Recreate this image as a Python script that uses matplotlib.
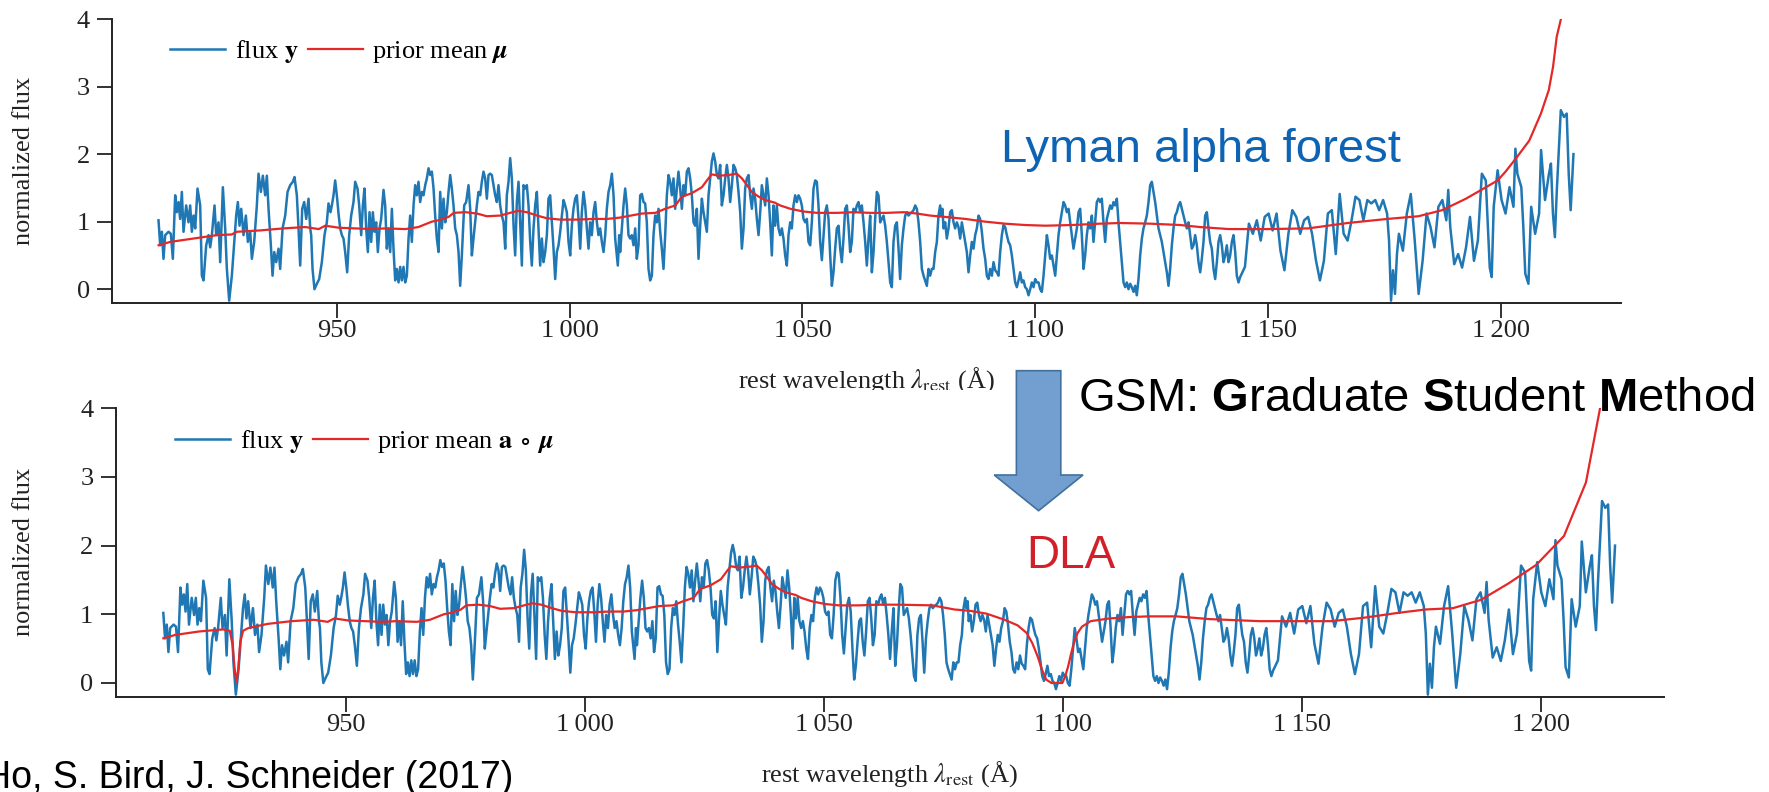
import numpy as np
import matplotlib
matplotlib.use("Agg")
import matplotlib.pyplot as plt
from matplotlib.patches import Polygon
from matplotlib.transforms import Bbox, TransformedBbox

spectrum = [
    (911.69, 1.02), (912.05, 0.65), (912.41, 0.85), (912.76, 0.45), (913.12, 0.80), (913.84, 0.85),
    (914.34, 0.82), (914.77, 0.45), (915.27, 1.39), (915.63, 1.14), (915.99, 1.29), (916.34, 1.04),
    (916.70, 1.44), (917.06, 0.85), (917.63, 1.24), (918.13, 0.99), (918.49, 1.24), (918.85, 0.85),
    (919.21, 1.09), (919.57, 0.90), (920.07, 1.49), (920.64, 1.24), (921.00, 0.20), (921.36, 0.13),
    (921.93, 0.65), (922.43, 0.80), (922.79, 0.62), (923.15, 0.80), (923.72, 1.24), (924.08, 0.80),
    (924.58, 0.99), (924.94, 0.40), (925.51, 1.51), (926.01, 0.90), (926.37, 0.30), (926.87, -0.17),
    (927.44, 0.20), (927.80, 0.55), (928.37, 1.09), (928.73, 1.29), (929.09, 0.94), (929.45, 1.19),
    (929.95, 0.80), (930.45, 1.09), (930.88, 0.70), (931.38, 0.85), (931.74, 0.45), (932.24, 0.70),
    (932.81, 1.24), (933.17, 1.71), (933.67, 1.44), (934.10, 1.68), (934.60, 1.39), (934.96, 1.68),
    (935.32, 1.19), (935.82, 0.65), (936.18, 0.20), (936.54, 0.55), (936.96, 0.40), (937.47, 0.60),
    (937.82, 0.30), (938.33, 0.90), (938.90, 1.09), (939.40, 1.44), (939.97, 1.54), (940.54, 1.59),
    (940.90, 1.66), (941.40, 1.39), (941.76, 0.90), (942.12, 0.35), (942.55, 1.19), (942.98, 1.29),
    (943.41, 1.04), (943.91, 1.34), (944.27, 0.90),
    (944.48, 0.80), (944.77, 0.30), (945.19, 0.00), (945.70, 0.08), (946.20, 0.15), (946.77, 0.40),
    (947.34, 0.80), (947.84, 0.99), (948.20, 1.27), (948.63, 1.14), (948.92, 1.24), (949.28, 1.39),
    (949.63, 1.61), (949.99, 1.39), (950.35, 1.12), (950.71, 0.90), (951.07, 0.80), (951.42, 0.75),
    (951.78, 0.55), (952.21, 0.25), (952.64, 0.80), (953.07, 1.09), (953.57, 1.29), (953.93, 1.59),
    (954.43, 1.49), (954.79, 1.24), (955.22, 0.80), (955.58, 1.24), (955.93, 1.49), (956.29, 0.90),
    (956.65, 0.55), (957.01, 1.14), (957.37, 0.70), (957.72, 1.14), (958.08, 0.85), (958.44, 0.99),
    (958.80, 0.55), (959.16, 0.90), (959.51, 1.04), (960.02, 1.47), (960.37, 1.24), (960.73, 0.60),
    (961.09, 0.90), (961.45, 0.55), (961.81, 1.19), (962.16, 0.60), (962.52, 0.13), (962.88, 0.30),
    (963.24, 0.10), (963.60, 0.33), (963.95, 0.13), (964.31, 0.33), (964.67, 0.10), (965.03, 0.20),
    (965.39, 0.75), (965.74, 1.09), (966.10, 0.70), (966.46, 1.24), (966.82, 1.54), (967.18, 1.39),
    (967.53, 1.59), (967.89, 1.29), (968.25, 1.44), (968.61, 1.39), (968.97, 1.54), (969.32, 1.64),
    (969.68, 1.79), (970.04, 1.69), (970.40, 1.74), (970.76, 1.49), (971.11, 1.09), (971.47, 0.75),
    (971.83, 0.55), (972.19, 1.44), (972.55, 0.90), (972.90, 1.34), (973.26, 0.99), (973.62, 1.14),
    (973.98, 1.44), (974.34, 1.69), (974.69, 1.49), (975.05, 1.24), (975.41, 0.90), (975.77, 0.80),
    (976.13, 0.55), (976.48, 0.05), (976.84, 0.50),
    (977.05, 0.80), (977.34, 1.24), (977.77, 1.29), (978.27, 1.54), (978.63, 1.19), (978.99, 0.50),
    (979.34, 0.75), (979.70, 0.99), (980.06, 1.24), (980.42, 1.44), (980.78, 1.39), (981.13, 1.59),
    (981.49, 1.74), (981.85, 1.64), (982.21, 1.34), (982.57, 1.69), (982.92, 1.71), (983.28, 1.69),
    (983.64, 1.54), (984.00, 1.39), (984.36, 1.29), (984.71, 1.54), (985.07, 1.24), (985.43, 1.09),
    (985.79, 0.99), (986.15, 0.60), (986.50, 1.39), (986.86, 1.59), (987.22, 1.94), (987.58, 1.64),
    (987.94, 0.95), (988.29, 0.50), (988.65, 1.29), (989.01, 1.59), (989.37, 0.99), (989.73, 0.35),
    (990.08, 1.54), (990.44, 1.49), (990.80, 1.54), (991.16, 1.24), (991.52, 0.70), (991.87, 0.35),
    (992.23, 0.90), (992.59, 1.24), (992.95, 1.44), (993.31, 0.90), (993.66, 0.35), (994.02, 0.75),
    (994.38, 0.40), (994.74, 0.55), (995.10, 0.80), (995.45, 1.34), (995.81, 1.39), (996.17, 0.99),
    (996.53, 0.60), (996.89, 0.15), (997.24, 0.55), (997.60, 0.65), (997.96, 0.85), (998.32, 1.09),
    (998.68, 1.32), (999.03, 1.24), (999.39, 1.14), (999.75, 0.70), (1000.11, 0.50), (1000.47, 0.95),
    (1000.82, 1.19), (1001.18, 1.34), (1001.54, 1.39), (1001.90, 1.04), (1002.26, 0.60), (1002.61, 1.14),
    (1002.97, 1.44), (1003.33, 1.24), (1003.69, 0.90), (1004.05, 0.60), (1004.40, 0.99), (1004.76, 0.80),
    (1005.12, 1.14), (1005.48, 1.29), (1005.84, 0.99), (1006.19, 0.80), (1006.55, 0.90), (1006.91, 0.70),
    (1007.27, 0.55), (1007.63, 0.80), (1007.98, 1.19), (1008.34, 1.44), (1008.70, 1.54), (1009.06, 1.71),
    (1009.42, 1.39), (1009.77, 0.75),
    (1010.34, 0.35), (1010.63, 0.80), (1010.84, 0.55), (1011.20, 0.90), (1011.56, 1.24), (1011.92, 1.49),
    (1012.28, 1.24), (1012.63, 0.80), (1012.99, 0.75), (1013.35, 0.80), (1013.71, 0.65), (1014.07, 0.90),
    (1014.42, 0.45), (1014.78, 0.65), (1015.14, 1.39), (1015.50, 1.41), (1015.86, 1.29), (1016.21, 1.27),
    (1016.57, 0.99), (1016.93, 0.30), (1017.29, 0.13), (1017.65, 0.20), (1018.00, 0.80), (1018.36, 1.09),
    (1018.72, 0.99), (1019.08, 1.19), (1019.44, 0.85), (1019.79, 0.60), (1020.15, 0.30), (1020.51, 0.80),
    (1020.87, 1.39), (1021.23, 1.69), (1021.58, 1.59), (1021.94, 1.39), (1022.30, 1.64), (1022.66, 1.19),
    (1023.02, 1.49), (1023.37, 1.74), (1023.73, 1.49), (1024.09, 1.19), (1024.45, 1.54), (1024.81, 1.39),
    (1025.16, 1.74), (1025.52, 1.79), (1025.88, 1.64), (1026.24, 1.39), (1026.60, 0.99), (1026.95, 0.94),
    (1027.31, 1.19), (1027.67, 0.45), (1028.03, 0.94), (1028.39, 1.34), (1028.74, 1.14), (1029.10, 0.99),
    (1029.46, 0.85), (1029.82, 1.39), (1030.18, 1.64), (1030.53, 1.89), (1030.89, 2.01), (1031.25, 1.89),
    (1031.61, 1.69), (1031.97, 1.64), (1032.32, 1.84), (1032.68, 1.24), (1033.04, 1.39), (1033.40, 1.64),
    (1033.76, 1.84), (1034.11, 1.64), (1034.47, 1.29), (1034.83, 1.54), (1035.19, 1.84), (1035.55, 1.79),
    (1035.90, 1.69), (1036.26, 1.44), (1036.62, 1.14), (1036.98, 0.60), (1037.34, 0.90), (1037.69, 1.49),
    (1038.05, 1.64), (1038.41, 1.69), (1038.77, 1.39), (1039.13, 1.19), (1039.48, 1.49), (1039.84, 1.34),
    (1040.20, 1.04), (1040.56, 0.80), (1040.92, 1.14), (1041.27, 1.54), (1041.63, 1.39), (1041.99, 1.24),
    (1042.35, 1.64), (1042.71, 1.39), (1043.06, 0.99),
    (1043.42, 0.50), (1043.78, 1.24), (1044.13, 0.94), (1044.49, 1.24), (1044.85, 0.90), (1045.21, 0.80),
    (1045.57, 0.90), (1045.92, 0.75), (1046.28, 0.50), (1046.64, 0.35), (1047.00, 0.80), (1047.36, 0.99),
    (1047.71, 0.90), (1048.07, 1.24), (1048.43, 1.39), (1048.79, 1.29), (1049.15, 1.39), (1049.50, 1.34),
    (1049.86, 1.24), (1050.22, 1.04), (1050.58, 0.99), (1050.94, 1.04), (1051.29, 0.70), (1051.65, 0.65),
    (1052.01, 0.99), (1052.37, 1.49), (1052.73, 1.61), (1053.08, 1.59), (1053.44, 1.24), (1053.80, 0.70),
    (1054.16, 0.43), (1054.52, 0.80), (1054.87, 1.14), (1055.23, 1.24), (1055.59, 1.04), (1055.95, 0.50),
    (1056.31, 0.05), (1056.66, 0.25), (1057.02, 0.60), (1057.38, 0.90), (1057.74, 0.94), (1058.10, 0.60),
    (1058.45, 0.40), (1058.81, 0.75), (1059.17, 1.19), (1059.53, 1.24), (1059.89, 0.94), (1060.24, 0.55),
    (1060.60, 0.70), (1060.96, 1.19), (1061.32, 1.14), (1061.68, 1.24), (1062.03, 1.29), (1062.39, 1.14),
    (1062.75, 1.24), (1063.11, 0.99), (1063.47, 0.70), (1063.82, 0.35), (1064.18, 0.75), (1064.54, 1.09),
    (1064.90, 0.25), (1065.26, 0.55), (1065.61, 1.04), (1065.97, 1.44), (1066.33, 1.39), (1066.69, 0.99),
    (1067.05, 1.04), (1067.40, 1.09), (1067.76, 0.94), (1068.12, 0.70), (1068.48, 0.40), (1068.84, 0.10),
    (1069.19, 0.03), (1069.55, 0.70), (1069.91, 0.94), (1070.27, 0.99), (1070.63, 0.60), (1070.98, 0.15),
    (1071.34, 0.65), (1071.70, 0.90), (1072.06, 1.09), (1072.42, 1.14), (1072.77, 1.09), (1073.13, 1.12),
    (1073.49, 1.14), (1073.85, 1.17), (1074.21, 1.24), (1074.56, 1.19), (1074.92, 0.99), (1075.28, 0.70),
    (1075.64, 0.30), (1076.00, 0.20),
    (1076.71, 0.05), (1077.07, 0.30), (1077.42, 0.20), (1077.78, 0.30), (1078.14, 0.30), (1078.50, 0.55),
    (1078.86, 0.70), (1079.21, 1.09), (1079.57, 1.24), (1079.79, 1.09), (1080.07, 1.19), (1080.29, 0.90),
    (1080.65, 0.99), (1081.00, 0.75), (1081.36, 0.90), (1081.72, 1.14), (1082.08, 1.17), (1082.44, 0.99),
    (1082.79, 0.90), (1083.15, 0.99), (1083.51, 0.92), (1083.87, 0.75), (1084.23, 0.99), (1084.58, 0.85),
    (1084.94, 0.70), (1085.30, 0.55), (1085.66, 0.25), (1086.02, 0.50), (1086.37, 0.70), (1086.73, 0.60),
    (1087.09, 0.80), (1087.45, 0.90), (1087.81, 1.09), (1088.16, 1.04), (1088.52, 0.85), (1088.88, 0.60),
    (1089.24, 0.45), (1089.60, 0.20), (1089.95, 0.15), (1090.31, 0.30), (1090.67, 0.20), (1091.03, 0.40),
    (1091.39, 0.28), (1091.74, 0.25), (1092.10, 0.20), (1092.46, 0.55), (1092.82, 0.80), (1093.18, 0.95),
    (1093.53, 0.92), (1093.89, 0.80), (1094.25, 0.70), (1094.61, 0.65), (1094.97, 0.50), (1095.32, 0.30),
    (1095.68, 0.10), (1096.04, 0.03), (1096.40, 0.13), (1096.76, 0.25), (1097.11, 0.10), (1097.47, 0.13),
    (1097.83, 0.03), (1098.19, 0.00), (1098.55, -0.09), (1098.91, 0.00), (1099.26, 0.10), (1099.62, 0.03),
    (1099.98, 0.15), (1100.34, 0.10), (1100.70, 0.10), (1101.05, 0.00), (1101.41, -0.04), (1101.77, 0.20),
    (1102.13, 0.50), (1102.49, 0.80), (1102.84, 0.65), (1103.20, 0.45), (1103.56, 0.50), (1103.92, 0.35),
    (1104.28, 0.20), (1104.63, 0.50), (1104.99, 0.80), (1105.35, 0.99), (1105.71, 1.14), (1106.07, 1.29),
    (1106.42, 1.24), (1106.78, 1.14), (1107.14, 1.19), (1107.50, 0.99), (1107.86, 0.80), (1108.21, 0.60),
    (1108.57, 0.75), (1108.93, 0.90), (1109.29, 1.14), (1109.64, 1.19),
    (1110.00, 0.80), (1110.36, 0.30), (1110.71, 0.50), (1111.07, 0.80), (1111.43, 0.99), (1111.79, 0.90),
    (1112.15, 1.09), (1112.50, 0.70), (1112.86, 0.99), (1113.22, 1.29), (1113.58, 1.34), (1113.94, 1.29),
    (1114.29, 1.34), (1114.65, 0.99), (1115.01, 0.70), (1115.37, 1.04), (1115.73, 1.14), (1116.08, 1.24),
    (1116.44, 1.19), (1116.80, 1.29), (1117.16, 1.24), (1117.52, 1.34), (1117.87, 0.99), (1118.23, 0.70),
    (1118.59, 0.40), (1118.95, 0.10), (1119.31, 0.03), (1119.66, 0.10), (1120.02, 0.00), (1120.38, 0.08),
    (1120.74, 0.03), (1121.10, -0.04), (1121.45, 0.05), (1121.81, -0.09), (1122.17, 0.15), (1122.53, 0.50),
    (1122.89, 0.75), (1123.24, 0.90), (1123.60, 0.99), (1123.96, 1.09), (1124.32, 1.29), (1124.68, 1.54),
    (1125.03, 1.59), (1125.39, 1.44), (1125.75, 1.29), (1126.11, 1.09), (1126.47, 0.90), (1126.82, 0.80),
    (1127.18, 0.70), (1127.54, 0.55), (1127.90, 0.40), (1128.26, 0.25), (1128.61, 0.05), (1128.97, 0.30),
    (1129.33, 0.65), (1129.69, 0.90), (1130.05, 1.09), (1130.40, 1.14), (1130.76, 1.24), (1131.12, 1.29),
    (1131.48, 1.19), (1131.84, 1.09), (1132.19, 0.99), (1132.55, 0.90), (1132.91, 0.99), (1133.27, 0.80),
    (1133.63, 0.60), (1133.98, 0.65), (1134.34, 0.80), (1134.70, 0.65), (1135.06, 0.40), (1135.42, 0.25),
    (1135.77, 0.45), (1136.13, 0.70), (1136.49, 1.09), (1136.85, 1.14), (1137.21, 0.90), (1137.56, 0.70),
    (1137.92, 0.60), (1138.28, 0.30), (1138.64, 0.15), (1139.00, 0.40), (1139.35, 0.70), (1139.71, 0.80),
    (1140.07, 0.65), (1140.43, 0.40), (1140.79, 0.50), (1141.14, 0.65), (1141.50, 0.40), (1141.86, 0.50),
    (1142.22, 0.70), (1142.58, 0.80), (1142.94, 0.55), (1143.29, 0.20), (1143.65, 0.10), (1144.01, 0.18),
    (1145.03, 0.33), (1145.88, 0.97), (1146.73, 0.82), (1147.58, 1.02), (1148.42, 0.72), (1149.27, 1.07),
    (1150.12, 1.12), (1150.97, 0.87), (1151.82, 1.12), (1152.66, 0.57), (1153.51, 0.28), (1154.36, 0.82),
    (1155.21, 1.17), (1156.06, 1.07), (1156.90, 0.82), (1157.75, 1.02), (1158.60, 1.07), (1159.45, 0.82),
    (1160.30, 0.42), (1161.14, 0.13), (1161.99, 0.42), (1162.84, 1.12), (1163.69, 1.17), (1164.54, 0.52),
    (1165.38, 1.41), (1166.23, 0.82), (1167.08, 0.72), (1167.93, 1.02), (1168.78, 1.37), (1169.62, 1.32),
    (1170.47, 1.02), (1171.32, 1.32), (1172.17, 1.27), (1173.02, 1.32), (1173.86, 1.17), (1174.71, 1.32),
    (1175.56, 1.12), (1175.98, 0.72), (1176.41, -0.17), (1176.83, 0.28), (1177.26, -0.07), (1177.68, 0.52),
    (1178.10, 0.82), (1178.95, 0.57), (1179.80, 1.12), (1180.65, 1.41), (1181.50, 0.72), (1182.34, -0.07),
    (1183.19, 0.42), (1184.04, 1.12), (1184.89, 0.92), (1185.74, 0.62), (1186.58, 1.22), (1187.43, 1.32),
    (1188.28, 1.02), (1188.70, 1.47), (1189.13, 0.92), (1189.98, 0.37), (1190.82, 0.52), (1191.67, 0.32),
    (1192.52, 0.62), (1193.37, 1.07), (1194.22, 0.42), (1195.06, 0.72), (1195.91, 1.71), (1196.76, 1.61),
    (1197.61, 0.32), (1198.03, 0.18), (1198.46, 1.22), (1199.30, 1.76), (1200.15, 1.32), (1201.00, 1.12),
    (1201.85, 1.51), (1202.70, 1.22), (1203.12, 2.08), (1203.54, 1.71), (1204.39, 1.51), (1204.82, 0.92),
    (1205.24, 0.23), (1205.92, 0.08), (1206.51, 1.22), (1207.36, 0.82), (1208.21, 1.12), (1208.63, 2.06),
    (1209.48, 1.32), (1210.33, 1.71), (1210.75, 1.86), (1211.18, 1.12), (1211.60, 0.77), (1212.02, 1.47),
    (1212.87, 2.65), (1213.55, 2.55), (1214.14, 2.60), (1214.57, 1.71), (1214.99, 1.17), (1215.59, 2.00),
]

# prior mean mu (top panel)
prior_mean = [
    (911.7, 0.65), (914.2, 0.70), (919.2, 0.75), (924.2, 0.80), (927.4, 0.81), (928.5, 0.85),
    (933.5, 0.87), (938.5, 0.90), (943.2, 0.92), (946.1, 0.89), (947.5, 0.94), (950.4, 0.91),
    (957.5, 0.89), (960.4, 0.90), (964.7, 0.89), (967.5, 0.92), (970.4, 1.00), (971.8, 1.02),
    (974.0, 1.07), (975.1, 1.13), (977.6, 1.14), (980.1, 1.12), (982.2, 1.08), (985.1, 1.09),
    (987.2, 1.13), (989.0, 1.16), (990.8, 1.14), (993.0, 1.09), (995.1, 1.05), (998.0, 1.03),
    (1001.5, 1.03), (1005.1, 1.04), (1008.0, 1.04), (1010.8, 1.06), (1015.5, 1.12), (1018.4, 1.13),
    (1020.5, 1.19), (1022.7, 1.24), (1024.1, 1.37), (1026.2, 1.42), (1028.4, 1.51), (1029.8, 1.64),
    (1030.5, 1.70), (1032.0, 1.68), (1034.1, 1.69), (1035.9, 1.71), (1037.0, 1.64), (1038.1, 1.54),
    (1039.1, 1.44), (1040.6, 1.37), (1042.0, 1.32), (1044.1, 1.28), (1045.2, 1.24), (1047.4, 1.19),
    (1050.2, 1.15), (1053.1, 1.13), (1057.4, 1.13), (1061.0, 1.14), (1064.5, 1.13), (1068.1, 1.13),
    (1071.7, 1.14), (1074.6, 1.12), (1077.4, 1.09), (1080.6, 1.07), (1085.0, 1.04), (1089.2, 1.00),
    (1093.5, 0.97), (1097.8, 0.95), (1102.1, 0.94), (1107.9, 0.95), (1113.9, 0.97), (1118.2, 0.98),
    (1124.7, 0.97), (1131.1, 0.95), (1135.4, 0.92), (1141.6, 0.89), (1150.1, 0.89), (1158.6, 0.90),
    (1167.1, 0.98), (1175.6, 1.04), (1182.3, 1.08), (1187.4, 1.17), (1192.5, 1.34), (1196.8, 1.51),
    (1199.3, 1.61), (1201.0, 1.74), (1203.5, 1.96), (1206.1, 2.20), (1208.6, 2.60), (1210.3, 2.95),
    (1211.2, 3.29), (1212.0, 3.74), (1212.9, 4.00), (1213.6, 4.40),
]

# prior mean with the two DLA absorbers, a o mu (bottom panel)
dla_mean = [
    (911.7, 0.65), (914.2, 0.70), (919.2, 0.75), (924.2, 0.78), (925.6, 0.76), (926.2, 0.55),
    (926.6, 0.22), (927.0, 0.00), (927.4, 0.22), (927.8, 0.60), (928.4, 0.76), (929.5, 0.80),
    (933.5, 0.86), (938.5, 0.90), (943.2, 0.92), (946.1, 0.89), (947.5, 0.94), (950.4, 0.91),
    (957.5, 0.89), (960.4, 0.90), (964.7, 0.89), (967.5, 0.92), (970.4, 1.00), (971.8, 1.02),
    (974.0, 1.07), (975.1, 1.13), (977.6, 1.14), (980.1, 1.12), (982.2, 1.08), (985.1, 1.09),
    (987.2, 1.13), (989.0, 1.16), (990.8, 1.14), (993.0, 1.09), (995.1, 1.05), (998.0, 1.03),
    (1001.5, 1.03), (1005.1, 1.04), (1008.0, 1.04), (1010.8, 1.06), (1015.5, 1.12), (1018.4, 1.13),
    (1020.5, 1.19), (1022.7, 1.24), (1024.1, 1.37), (1026.2, 1.42), (1028.4, 1.51), (1029.8, 1.64),
    (1030.5, 1.70), (1032.0, 1.68), (1034.1, 1.69), (1035.9, 1.71), (1037.0, 1.64), (1038.1, 1.54),
    (1039.1, 1.44), (1040.6, 1.37), (1042.0, 1.32), (1044.1, 1.28), (1045.2, 1.24), (1047.4, 1.19),
    (1050.2, 1.15), (1053.1, 1.13), (1057.4, 1.13), (1061.0, 1.14), (1065.7, 1.14), (1072.7, 1.13),
    (1077.3, 1.07), (1080.6, 1.05), (1084.0, 1.01), (1087.8, 0.92), (1090.5, 0.84), (1092.4, 0.73),
    (1093.6, 0.58), (1094.7, 0.39), (1095.7, 0.18), (1096.5, 0.05), (1097.6, 0.00), (1099.9, 0.00),
    (1100.5, 0.10), (1101.1, 0.24), (1101.7, 0.42), (1102.3, 0.58), (1103.1, 0.73), (1104.0, 0.82),
    (1105.8, 0.90), (1109.8, 0.94), (1113.9, 0.96), (1118.0, 0.97), (1123.8, 0.97), (1130.7, 0.93),
    (1141.2, 0.90), (1156.2, 0.90), (1163.0, 0.95), (1170.1, 1.02), (1175.9, 1.07), (1181.7, 1.09),
    (1187.5, 1.21), (1193.3, 1.45), (1199.1, 1.72), (1204.9, 2.14), (1209.5, 2.92), (1212.4, 3.98),
    (1213.2, 4.40),
]

xticks = [950, 1000, 1050, 1100, 1150, 1200]
xtick_labels = ["950", "1\u2009000", "1\u2009050", "1\u2009100", "1\u2009150", "1\u2009200"]
yticks = [0, 1, 2, 3, 4]

plt.rcParams["font.family"] = ["Liberation Serif", "DejaVu Serif"]
plt.rcParams["mathtext.fontset"] = "stix"
plt.rcParams["mathtext.rm"] = "Liberation Sans"
plt.rcParams["mathtext.bf"] = "Liberation Sans:bold"

W, H = 1769, 792
def fx(px):
    return px / W
def fy(py):
    return 1 - py / H

fig = plt.figure(figsize=(W / 100, H / 100), dpi=100)

BLUE = "#1f77b4"
RED = "#e42828"
INK = "#222222"

wave, flux = np.array(spectrum).T
mw, mu = np.array(prior_mean).T
dw, dmu = np.array(dla_mean).T

panels = [
    ([112, 19, 1621, 302.7], mw, mu, r"prior mean $\mathbfit{\mu}$"),
    ([115.6, 408.3, 1663.8, 696.7], dw, dmu, r"prior mean $\mathbf{a}\;\circ\;\mathbfit{\mu}$"),
]

axes = []
for (x0, y0, x1, y1), mx, my, lab in panels:
    ax = fig.add_axes([fx(x0), fy(y1), (x1 - x0) / W, (y1 - y0) / H])
    l1, = ax.plot(wave, flux, color=BLUE, lw=1.8, zorder=2)
    l2, = ax.plot(mx, my, color=RED, lw=1.6, zorder=3)
    ax.set_xlim(901.7, 1225.8)
    ax.set_ylim(-0.2, 4)
    ax.set_xticks(xticks)
    ax.set_xticklabels(xtick_labels)
    ax.set_yticks(yticks)
    for s in ["top", "right"]:
        ax.spines[s].set_visible(False)
    for s in ["left", "bottom"]:
        ax.spines[s].set_linewidth(1.4)
        ax.spines[s].set_color(INK)
    ax.tick_params(axis="x", length=10.5, width=1.3, pad=2, labelsize=19, colors=INK)
    ax.tick_params(axis="y", length=10.5, width=1.3, pad=5.5, labelsize=19, colors=INK)
    ax.legend([l1, l2], [r"flux $\mathbf{y}$", lab], loc="center left",
              bbox_to_anchor=(0.0384, 0.885), ncol=2, frameon=False, fontsize=19,
              handlelength=2.1, handletextpad=0.35, columnspacing=0.35,
              borderpad=0, borderaxespad=0)
    axes.append(ax)

# axis labels
xl = r"rest wavelength $\lambda_{\mathrm{rest}}$ (Å)"
t_top = fig.text(fx(866), fy(388), xl, ha="center", va="baseline", fontsize=19, color=INK)
t_top.set_clip_box(TransformedBbox(Bbox([[0, fy(390)], [1, 1]]), fig.transFigure))
t_top.set_clip_on(True)
fig.text(fx(889.7), fy(782), xl, ha="center", va="baseline", fontsize=19, color=INK)
fig.text(fx(24), fy(161), "normalized flux", rotation=90, ha="center", va="center",
         fontsize=19, color=INK)
fig.text(fx(24), fy(552), "normalized flux", rotation=90, ha="center", va="center",
         fontsize=19, color=INK)

# slide annotations
sans = ["Liberation Sans", "DejaVu Sans"]
fig.text(fx(1001), fy(161.7), "Lyman alpha forest", family=sans, fontsize=34,
         color="#0e64b4", va="baseline")
fig.text(fx(1078), fy(411), r"GSM: $\mathbf{G}$raduate $\mathbf{S}$tudent $\mathbf{M}$ethod",
         family=sans, fontsize=34, math_fontfamily="custom", color="black", va="baseline")
fig.text(fx(1026), fy(568.3), "DLA", family=sans, fontsize=33, color="#d2202a", va="baseline")
fig.text(fx(-16), fy(788), "Ho, S. Bird, J. Schneider (2017)", family=sans, fontsize=27,
         color="black", va="baseline")

# down arrow
arrow_px = [(1016.4, 370.7), (1060.8, 370.7), (1060.8, 475), (1083, 475),
            (1038.6, 510.7), (994.2, 475), (1016.4, 475)]
arrow = Polygon([(fx(a), fy(b)) for a, b in arrow_px], closed=True,
                transform=fig.transFigure, facecolor="#729fcf", edgecolor="#41719c", lw=1.2)
fig.patches.append(arrow)

fig.savefig("out.png", dpi=100)
